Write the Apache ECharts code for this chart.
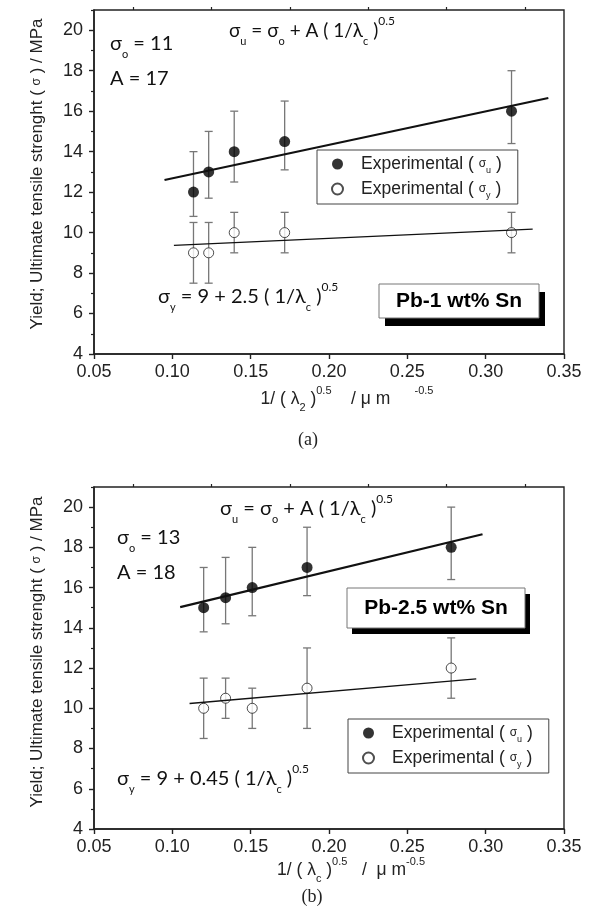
<!DOCTYPE html>
<html>
<head>
<meta charset="utf-8">
<script src="https://cdn.jsdelivr.net/npm/echarts@6/dist/echarts.min.js"></script>
<style>
  html, body { margin: 0; padding: 0; background: #fff; }
  #chart { width: 593px; height: 920px; }
</style>
</head>
<body>
<div id="chart"></div>
<script>
// ticks
const xTicks = [0.05, 0.10, 0.15, 0.20, 0.25, 0.30, 0.35]
const xMinor = [0.075, 0.125, 0.175, 0.225, 0.275, 0.325]
const yTicks = [4, 6, 8, 10, 12, 14, 16, 18, 20]
const yMinor = [5, 7, 9, 11, 13, 15, 17, 19, 21]

// (a) Pb-1 wt% Sn
const xA = [0.1135, 0.1232, 0.1395, 0.1717, 0.3165]
const uA = [12, 13, 14, 14.5, 16]
const uALow = [10.8, 11.7, 12.5, 13.1, 14.4]
const uAHigh = [14, 15, 16, 16.5, 18]
const yA = [9, 9, 10, 10, 10]
const yALow = [7.5, 7.5, 9, 9, 9]
const yAHigh = [10.5, 10.5, 11, 11, 11]
const fitUA = [[0.095, 12.6], [0.34, 16.65]]
const fitYA = [[0.101, 9.37], [0.33, 10.17]]

// (b) Pb-2.5 wt% Sn
const xB = [0.12, 0.134, 0.151, 0.186, 0.278]
const uB = [15, 15.5, 16, 17, 18]
const uBLow = [13.8, 14.2, 14.6, 15.6, 16.4]
const uBHigh = [17, 17.5, 18, 19, 20]
const yB = [10, 10.5, 10, 11, 12]
const yBLow = [8.5, 9.5, 9, 9, 10.5]
const yBHigh = [11.5, 11.5, 11, 13, 13.5]
const fitUB = [[0.105, 15.03], [0.298, 18.65]]
const fitYB = [[0.111, 10.24], [0.294, 11.46]]

const AXIS_FONT = 'Liberation Sans'
const EQ_FONT = 'Lato, "Open Sans", sans-serif'

const chart = echarts.init(document.getElementById('chart'))

const mainX = (gridIndex) => ({
  type: 'value', gridIndex, min: 0.05, max: 0.35, interval: 0.05,
  axisLine: { lineStyle: { color: '#222', width: 1.6 } },
  axisTick: { length: 5, customValues: xTicks, lineStyle: { color: '#222', width: 1.4 } },
  axisLabel: {
    customValues: xTicks, formatter: v => v.toFixed(2), margin: 9,
    fontSize: 18, fontFamily: AXIS_FONT, color: '#222'
  },
  splitLine: { show: false }
})
const minorX = (gridIndex) => ({
  type: 'value', gridIndex, min: 0.05, max: 0.35, interval: 0.05,
  axisLine: { show: false },
  axisTick: { length: 3, customValues: xMinor, lineStyle: { color: '#222', width: 1.2 } },
  axisLabel: { show: false },
  splitLine: { show: false }
})
const mainY = (gridIndex) => ({
  type: 'value', gridIndex, min: 4, max: 21, interval: 2,
  axisLine: { lineStyle: { color: '#222', width: 1.6 } },
  axisTick: { length: 5, customValues: yTicks, lineStyle: { color: '#222', width: 1.4 } },
  axisLabel: {
    customValues: yTicks, margin: 11,
    fontSize: 18, fontFamily: AXIS_FONT, color: '#222'
  },
  splitLine: { show: false }
})
const minorY = (gridIndex) => ({
  type: 'value', gridIndex, min: 4, max: 21, interval: 2, position: 'left',
  axisLine: { show: false },
  axisTick: { length: 3, customValues: yMinor, lineStyle: { color: '#222', width: 1.2 } },
  axisLabel: { show: false },
  splitLine: { show: false }
})

// error bars drawn through the axes
const errorBars = (xs, lows, highs, axis) => ({
  type: 'custom',
  xAxisIndex: axis, yAxisIndex: axis,
  silent: true,
  encode: { x: 0, y: [1, 2] },
  data: xs.map((x, i) => [x, lows[i], highs[i]]),
  renderItem: (params, api) => {
    const lo = api.coord([api.value(0), api.value(1)])
    const hi = api.coord([api.value(0), api.value(2)])
    const w = 4
    const st = { stroke: '#777', lineWidth: 1.3 }
    return {
      type: 'group',
      children: [
        { type: 'line', shape: { x1: lo[0], y1: lo[1], x2: hi[0], y2: hi[1] }, style: st },
        { type: 'line', shape: { x1: lo[0] - w, y1: lo[1], x2: lo[0] + w, y2: lo[1] }, style: st },
        { type: 'line', shape: { x1: hi[0] - w, y1: hi[1], x2: hi[0] + w, y2: hi[1] }, style: st }
      ]
    }
  }
})
const fitLine = (data, axis, width) => ({
  type: 'line', xAxisIndex: axis, yAxisIndex: axis, data,
  symbol: 'none', silent: true,
  lineStyle: { color: '#111', width }
})
const points = (name, xs, ys, axis, filled) => ({
  name, type: 'scatter', xAxisIndex: axis, yAxisIndex: axis,
  data: xs.map((x, i) => [x, ys[i]]),
  symbol: 'circle', symbolSize: filled ? 11 : 10,
  itemStyle: filled
    ? { color: '#000' }
    : { color: '#fff', borderColor: '#222', borderWidth: 1 }
})

const legendBox = (left, top) => ({
  orient: 'vertical', left, top,
  data: ['u', 'y'],
  backgroundColor: '#fff',
  borderColor: '#444', borderWidth: 1,
  padding: [5, 16, 4, 14],
  itemWidth: 37, itemHeight: 11, itemGap: 5,
  formatter: name => '{t|Experimental ( }{g|σ}{s|' + name + '}{t| )}',
  textStyle: {
    rich: {
      t: { fontSize: 17.5, fontFamily: AXIS_FONT, color: '#222', lineHeight: 22 },
      g: { fontSize: 12, fontFamily: AXIS_FONT, color: '#222' },
      s: { fontSize: 9, fontFamily: AXIS_FONT, color: '#222', verticalAlign: 'bottom' }
    }
  }
})

const eqRich = (size) => ({
  m: { fontSize: size, fontFamily: EQ_FONT, fill: '#111', lineHeight: 32 },
  s: { fontSize: 11, fontFamily: EQ_FONT, fill: '#111', verticalAlign: 'bottom' },
  p: { fontSize: 12, fontFamily: EQ_FONT, fill: '#111', verticalAlign: 'top' }
})
const axRich = {
  t: { fontSize: 17.5, fontFamily: AXIS_FONT, fill: '#222', lineHeight: 28 },
  g: { fontSize: 12, fontFamily: AXIS_FONT, fill: '#222' },
  s: { fontSize: 11, fontFamily: AXIS_FONT, fill: '#222', verticalAlign: 'bottom' },
  p: { fontSize: 11, fontFamily: AXIS_FONT, fill: '#222', verticalAlign: 'top' }
}
const txt = (x, y, text, rich, align, rotation) => ({
  type: 'text', x, y, rotation: rotation || 0,
  style: { text, rich, align: align || 'left', verticalAlign: 'middle' }
})
const tagBox = (x, y, w, h, dx, dy, label) => [
  { type: 'rect', shape: { x: x + dx, y: y + dy, width: w, height: h }, style: { fill: '#000' } },
  { type: 'rect', shape: { x, y, width: w, height: h }, style: { fill: '#fff', stroke: '#777', lineWidth: 1 } },
  {
    type: 'text', x: x + w / 2, y: y + h / 2,
    style: {
      text: label, align: 'center', verticalAlign: 'middle',
      font: 'bold 21px "Liberation Sans"', fill: '#000'
    }
  }
]

const yTitle = '{t|Yield; Ultimate tensile strenght ( }{g|σ}{t| ) / MPa}'
const yTitleRich = {
  t: { fontSize: 17, fontFamily: AXIS_FONT, fill: '#222' },
  g: { fontSize: 12, fontFamily: AXIS_FONT, fill: '#222' }
}

const option = {
  animation: false,
  backgroundColor: '#fff',
  grid: [
    { left: 94, top: 10, width: 470, height: 344, show: true, borderColor: '#222', borderWidth: 1.4 },
    { left: 94, top: 487, width: 470, height: 342, show: true, borderColor: '#222', borderWidth: 1.4 }
  ],
  xAxis: [mainX(0), minorX(0), mainX(1), minorX(1)],
  yAxis: [mainY(0), minorY(0), mainY(1), minorY(1)],
  legend: [legendBox(317, 150), legendBox(348, 719)],
  series: [
    errorBars(xA, uALow, uAHigh, 0),
    errorBars(xA, yALow, yAHigh, 0),
    fitLine(fitUA, 0, 2.2),
    fitLine(fitYA, 0, 1.4),
    points('u', xA, uA, 0, true),
    points('y', xA, yA, 0, false),

    errorBars(xB, uBLow, uBHigh, 2),
    errorBars(xB, yBLow, yBHigh, 2),
    fitLine(fitUB, 2, 2.2),
    fitLine(fitYB, 2, 1.4),
    points('u', xB, uB, 2, true),
    points('y', xB, yB, 2, false)
  ],
  graphic: [
    // (a)
    txt(229, 31, '{m|σ}{s|u}{m| = σ}{s|o}{m| + A ( 1/λ}{s|c}{m| )}{p|0.5}', eqRich(19)),
    txt(110, 44, '{m|σ}{s|o}{m| = 11}', eqRich(20)),
    txt(110, 79, '{m|A = 17}', eqRich(20)),
    txt(158, 297, '{m|σ}{s|y}{m| = 9 + 2.5 ( 1/λ}{s|c}{m| )}{p|0.5}', eqRich(20)),
    ...tagBox(379, 284, 160, 34, 6, 8, 'Pb-1 wt% Sn'),
    txt(347, 399, '{t|1/ ( λ}{s|2}{t| )}{p|0.5}{t|    / μ m     }{p|-0.5}', axRich, 'center'),
    { type: 'text', x: 308, y: 440, style: { text: '(a)', align: 'center', verticalAlign: 'middle', font: '18px "Liberation Serif"', fill: '#222' } },
    txt(37, 174, yTitle, yTitleRich, 'center', Math.PI / 2),

    // (b)
    txt(220, 509, '{m|σ}{s|u}{m| = σ}{s|o}{m| + A ( 1/λ}{s|c}{m| )}{p|0.5}', eqRich(20)),
    txt(117, 538, '{m|σ}{s|o}{m| = 13}', eqRich(20)),
    txt(117, 573, '{m|A = 18}', eqRich(20)),
    txt(117, 779, '{m|σ}{s|y}{m| = 9 + 0.45 ( 1/λ}{s|c}{m| )}{p|0.5}', eqRich(20)),
    ...tagBox(347, 588, 178, 40, 5, 6, 'Pb-2.5 wt% Sn'),
    txt(351, 870, '{t|1/ ( λ}{s|c}{t| )}{p|0.5}{t|   /  μ m}{p|-0.5}', axRich, 'center'),
    { type: 'text', x: 312, y: 897, style: { text: '(b)', align: 'center', verticalAlign: 'middle', font: '18px "Liberation Serif"', fill: '#222' } },
    txt(37, 652, yTitle, yTitleRich, 'center', Math.PI / 2)
  ]
}
chart.setOption(option)
</script>
</body>
</html>
